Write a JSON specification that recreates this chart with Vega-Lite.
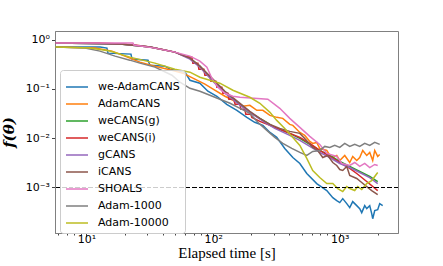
{
  "$schema": "https://vega.github.io/schema/vega-lite/v6.json",
  "width": 343,
  "height": 202,
  "autosize": "none",
  "padding": {"left": 55, "top": 31, "right": 45, "bottom": 33},
  "background": "white",
  "config": {
    "view": {"stroke": "#808080", "strokeWidth": 1},
    "axis": {"grid": false, "domainColor": "#808080", "tickColor": "#444444", "labelFont": "DejaVu Sans", "labelFontSize": 11, "labelColor": "black", "titleColor": "black"}
  },
  "data": {"values": [
    {"s":"we-AdamCANS","t":5.7,"v":0.707},{"s":"we-AdamCANS","t":12.78,"v":0.707},{"s":"we-AdamCANS","t":14.5,"v":0.674},{"s":"we-AdamCANS","t":14.78,"v":0.533},{"s":"we-AdamCANS","t":22.45,"v":0.509},{"s":"we-AdamCANS","t":22.86,"v":0.403},{"s":"we-AdamCANS","t":30.6,"v":0.384},{"s":"we-AdamCANS","t":31.7,"v":0.304},{"s":"we-AdamCANS","t":41.6,"v":0.29},{"s":"we-AdamCANS","t":45.6,"v":0.252},{"s":"we-AdamCANS","t":59.9,"v":0.219},{"s":"we-AdamCANS","t":65.6,"v":0.15},{"s":"we-AdamCANS","t":78.6,"v":0.131},{"s":"we-AdamCANS","t":90.9,"v":0.0898},{"s":"we-AdamCANS","t":107.1,"v":0.071},{"s":"we-AdamCANS","t":128,"v":0.0488},{"s":"we-AdamCANS","t":154,"v":0.0368},{"s":"we-AdamCANS","t":184.6,"v":0.0265},{"s":"we-AdamCANS","t":213,"v":0.021},{"s":"we-AdamCANS","t":247,"v":0.0182},{"s":"we-AdamCANS","t":281,"v":0.0131},{"s":"we-AdamCANS","t":318,"v":0.01038},{"s":"we-AdamCANS","t":368,"v":0.0062},{"s":"we-AdamCANS","t":426,"v":0.00406},{"s":"we-AdamCANS","t":484,"v":0.00307},{"s":"we-AdamCANS","t":549,"v":0.00192},{"s":"we-AdamCANS","t":658,"v":0.0012},{"s":"we-AdamCANS","t":790,"v":0.000865},{"s":"we-AdamCANS","t":881,"v":0.000622},{"s":"we-AdamCANS","t":947,"v":0.000541},{"s":"we-AdamCANS","t":1000,"v":0.000493},{"s":"we-AdamCANS","t":1056,"v":0.000594},{"s":"we-AdamCANS","t":1136,"v":0.00047},{"s":"we-AdamCANS","t":1199,"v":0.00039},{"s":"we-AdamCANS","t":1266,"v":0.000516},{"s":"we-AdamCANS","t":1362,"v":0.000428},{"s":"we-AdamCANS","t":1438,"v":0.000372},{"s":"we-AdamCANS","t":1491,"v":0.000308},{"s":"we-AdamCANS","t":1575,"v":0.000428},{"s":"we-AdamCANS","t":1633,"v":0.000372},{"s":"we-AdamCANS","t":1725,"v":0.000428},{"s":"we-AdamCANS","t":1788,"v":0.000294},{"s":"we-AdamCANS","t":1821,"v":0.000232},{"s":"we-AdamCANS","t":1889,"v":0.000339},{"s":"we-AdamCANS","t":1994,"v":0.000355},{"s":"we-AdamCANS","t":2068,"v":0.00047},{"s":"we-AdamCANS","t":2184,"v":0.000428},
    {"s":"AdamCANS","t":5.7,"v":0.707},{"s":"AdamCANS","t":11.67,"v":0.674},{"s":"AdamCANS","t":15.89,"v":0.586},{"s":"AdamCANS","t":20.1,"v":0.463},{"s":"AdamCANS","t":26.4,"v":0.35},{"s":"AdamCANS","t":34.7,"v":0.29},{"s":"AdamCANS","t":47.3,"v":0.24},{"s":"AdamCANS","t":57.7,"v":0.209},{"s":"AdamCANS","t":71.8,"v":0.158},{"s":"AdamCANS","t":86.1,"v":0.125},{"s":"AdamCANS","t":103,"v":0.0942},{"s":"AdamCANS","t":124,"v":0.071},{"s":"AdamCANS","t":149,"v":0.0562},{"s":"AdamCANS","t":171.7,"v":0.0444},{"s":"AdamCANS","t":195,"v":0.0466},{"s":"AdamCANS","t":221.4,"v":0.0368},{"s":"AdamCANS","t":247,"v":0.0368},{"s":"AdamCANS","t":281,"v":0.0291},{"s":"AdamCANS","t":318,"v":0.0265},{"s":"AdamCANS","t":355,"v":0.0253},{"s":"AdamCANS","t":403,"v":0.0191},{"s":"AdamCANS","t":426,"v":0.0182},{"s":"AdamCANS","t":484,"v":0.0131},{"s":"AdamCANS","t":529,"v":0.0114},{"s":"AdamCANS","t":580,"v":0.00861},{"s":"AdamCANS","t":612,"v":0.00784},{"s":"AdamCANS","t":658,"v":0.00821},{"s":"AdamCANS","t":695,"v":0.0062},{"s":"AdamCANS","t":790,"v":0.00564},{"s":"AdamCANS","t":834,"v":0.00446},{"s":"AdamCANS","t":881,"v":0.00406},{"s":"AdamCANS","t":947,"v":0.00446},{"s":"AdamCANS","t":1000,"v":0.00353},{"s":"AdamCANS","t":1095,"v":0.00446},{"s":"AdamCANS","t":1199,"v":0.00321},{"s":"AdamCANS","t":1266,"v":0.00426},{"s":"AdamCANS","t":1362,"v":0.00353},{"s":"AdamCANS","t":1438,"v":0.00406},{"s":"AdamCANS","t":1519,"v":0.00564},{"s":"AdamCANS","t":1633,"v":0.00446},{"s":"AdamCANS","t":1725,"v":0.00514},{"s":"AdamCANS","t":1821,"v":0.00353},{"s":"AdamCANS","t":1889,"v":0.00564},{"s":"AdamCANS","t":1994,"v":0.00426},{"s":"AdamCANS","t":2068,"v":0.00468},
    {"s":"weCANS(g)","t":5.7,"v":0.853},{"s":"weCANS(g)","t":18.4,"v":0.813},{"s":"weCANS(g)","t":31.7,"v":0.707},{"s":"weCANS(g)","t":49.9,"v":0.559},{"s":"weCANS(g)","t":65.6,"v":0.422},{"s":"weCANS(g)","t":78.6,"v":0.29},{"s":"weCANS(g)","t":99.5,"v":0.15},{"s":"weCANS(g)","t":124,"v":0.0857},{"s":"weCANS(g)","t":163,"v":0.0488},{"s":"weCANS(g)","t":195,"v":0.0335},{"s":"weCANS(g)","t":256,"v":0.022},{"s":"weCANS(g)","t":307,"v":0.0166},{"s":"weCANS(g)","t":403,"v":0.01253},{"s":"weCANS(g)","t":484,"v":0.00991},{"s":"weCANS(g)","t":580,"v":0.00748},{"s":"weCANS(g)","t":695,"v":0.00564},{"s":"weCANS(g)","t":834,"v":0.00446},{"s":"weCANS(g)","t":1000,"v":0.00337},{"s":"weCANS(g)","t":1199,"v":0.00267},{"s":"weCANS(g)","t":1438,"v":0.00211},{"s":"weCANS(g)","t":1725,"v":0.00167},{"s":"weCANS(g)","t":1994,"v":0.00132},
    {"s":"weCANS(i)","t":5.7,"v":0.853},{"s":"weCANS(i)","t":12.78,"v":0.853},{"s":"weCANS(i)","t":18.4,"v":0.813},{"s":"weCANS(i)","t":24.1,"v":0.776},{"s":"weCANS(i)","t":31.7,"v":0.707},{"s":"weCANS(i)","t":41.6,"v":0.614},{"s":"weCANS(i)","t":49.9,"v":0.559},{"s":"weCANS(i)","t":59.9,"v":0.463},{"s":"weCANS(i)","t":68.0,"v":0.442},{"s":"weCANS(i)","t":69.2,"v":0.334},{"s":"weCANS(i)","t":75.8,"v":0.334},{"s":"weCANS(i)","t":77.2,"v":0.252},{"s":"weCANS(i)","t":84.5,"v":0.252},{"s":"weCANS(i)","t":86.1,"v":0.19},{"s":"weCANS(i)","t":94.3,"v":0.19},{"s":"weCANS(i)","t":96.0,"v":0.144},{"s":"weCANS(i)","t":105.1,"v":0.144},{"s":"weCANS(i)","t":107.1,"v":0.108},{"s":"weCANS(i)","t":117.2,"v":0.108},{"s":"weCANS(i)","t":119.4,"v":0.0817},{"s":"weCANS(i)","t":130.8,"v":0.0817},{"s":"weCANS(i)","t":133.2,"v":0.0617},{"s":"weCANS(i)","t":145.8,"v":0.0617},{"s":"weCANS(i)","t":149,"v":0.0488},{"s":"weCANS(i)","t":163,"v":0.0488},{"s":"weCANS(i)","t":165.6,"v":0.0386},{"s":"weCANS(i)","t":178,"v":0.0386},{"s":"weCANS(i)","t":181.3,"v":0.0305},{"s":"weCANS(i)","t":198.6,"v":0.0305},{"s":"weCANS(i)","t":202.2,"v":0.0265},{"s":"weCANS(i)","t":234,"v":0.022},{"s":"weCANS(i)","t":281,"v":0.0182},{"s":"weCANS(i)","t":368,"v":0.01375},{"s":"weCANS(i)","t":484,"v":0.01038},{"s":"weCANS(i)","t":580,"v":0.00784},{"s":"weCANS(i)","t":695,"v":0.00564},{"s":"weCANS(i)","t":834,"v":0.00426},{"s":"weCANS(i)","t":1000,"v":0.00321},{"s":"weCANS(i)","t":1199,"v":0.00243},{"s":"weCANS(i)","t":1362,"v":0.00192},{"s":"weCANS(i)","t":1633,"v":0.00132},{"s":"weCANS(i)","t":1994,"v":0.000865},
    {"s":"gCANS","t":5.7,"v":0.853},{"s":"gCANS","t":18.4,"v":0.813},{"s":"gCANS","t":31.7,"v":0.707},{"s":"gCANS","t":49.9,"v":0.559},{"s":"gCANS","t":65.6,"v":0.403},{"s":"gCANS","t":78.6,"v":0.277},{"s":"gCANS","t":99.5,"v":0.144},{"s":"gCANS","t":124,"v":0.0817},{"s":"gCANS","t":163,"v":0.0466},{"s":"gCANS","t":195,"v":0.0335},{"s":"gCANS","t":256,"v":0.021},{"s":"gCANS","t":307,"v":0.0158},{"s":"gCANS","t":403,"v":0.0114},{"s":"gCANS","t":484,"v":0.00902},{"s":"gCANS","t":580,"v":0.00681},{"s":"gCANS","t":695,"v":0.00514},{"s":"gCANS","t":834,"v":0.00406},{"s":"gCANS","t":1000,"v":0.00307},{"s":"gCANS","t":1199,"v":0.00254},{"s":"gCANS","t":1438,"v":0.00201},{"s":"gCANS","t":1725,"v":0.00159},{"s":"gCANS","t":1994,"v":0.0012},
    {"s":"iCANS","t":5.7,"v":0.853},{"s":"iCANS","t":18.4,"v":0.813},{"s":"iCANS","t":31.7,"v":0.707},{"s":"iCANS","t":49.9,"v":0.559},{"s":"iCANS","t":65.6,"v":0.422},{"s":"iCANS","t":78.6,"v":0.29},{"s":"iCANS","t":99.5,"v":0.158},{"s":"iCANS","t":124,"v":0.0898},{"s":"iCANS","t":163,"v":0.0511},{"s":"iCANS","t":195,"v":0.0351},{"s":"iCANS","t":234,"v":0.0253},{"s":"iCANS","t":281,"v":0.0191},{"s":"iCANS","t":336,"v":0.0158},{"s":"iCANS","t":403,"v":0.01375},{"s":"iCANS","t":484,"v":0.01253},{"s":"iCANS","t":529,"v":0.00991},{"s":"iCANS","t":612,"v":0.0065},{"s":"iCANS","t":670.6,"v":0.00564},{"s":"iCANS","t":734,"v":0.00406},{"s":"iCANS","t":804,"v":0.00446},{"s":"iCANS","t":881,"v":0.00321},{"s":"iCANS","t":947,"v":0.00279},{"s":"iCANS","t":1000,"v":0.00231},{"s":"iCANS","t":1056,"v":0.00221},{"s":"iCANS","t":1136,"v":0.00267},{"s":"iCANS","t":1199,"v":0.00175},{"s":"iCANS","t":1362,"v":0.00152},{"s":"iCANS","t":1491,"v":0.00126},{"s":"iCANS","t":1633,"v":0.00104},{"s":"iCANS","t":1788,"v":0.000865},{"s":"iCANS","t":1994,"v":0.000717},
    {"s":"SHOALS","t":5.7,"v":0.853},{"s":"SHOALS","t":23.27,"v":0.853},{"s":"SHOALS","t":23.71,"v":0.776},{"s":"SHOALS","t":34.7,"v":0.674},{"s":"SHOALS","t":49.9,"v":0.559},{"s":"SHOALS","t":65.6,"v":0.463},{"s":"SHOALS","t":78.6,"v":0.367},{"s":"SHOALS","t":89.3,"v":0.277},{"s":"SHOALS","t":97.7,"v":0.165},{"s":"SHOALS","t":109.0,"v":0.108},{"s":"SHOALS","t":124,"v":0.0817},{"s":"SHOALS","t":143.2,"v":0.071},{"s":"SHOALS","t":163,"v":0.0678},{"s":"SHOALS","t":270.4,"v":0.0617},{"s":"SHOALS","t":336,"v":0.0404},{"s":"SHOALS","t":403,"v":0.0253},{"s":"SHOALS","t":484,"v":0.0166},{"s":"SHOALS","t":580,"v":0.0109},{"s":"SHOALS","t":695,"v":0.00748},{"s":"SHOALS","t":790,"v":0.0049},{"s":"SHOALS","t":947,"v":0.00426},{"s":"SHOALS","t":1037,"v":0.00307},{"s":"SHOALS","t":1199,"v":0.00279},{"s":"SHOALS","t":1313,"v":0.00321},{"s":"SHOALS","t":1438,"v":0.00267},{"s":"SHOALS","t":1575,"v":0.00307},{"s":"SHOALS","t":1725,"v":0.00254},{"s":"SHOALS","t":1889,"v":0.00293},{"s":"SHOALS","t":1994,"v":0.00279},
    {"s":"Adam-1000","t":5.7,"v":0.707},{"s":"Adam-1000","t":9.73,"v":0.674},{"s":"Adam-1000","t":12.78,"v":0.586},{"s":"Adam-1000","t":16.8,"v":0.463},{"s":"Adam-1000","t":22.0,"v":0.384},{"s":"Adam-1000","t":26.4,"v":0.334},{"s":"Adam-1000","t":34.7,"v":0.277},{"s":"Adam-1000","t":47.3,"v":0.19},{"s":"Adam-1000","t":54.7,"v":0.137},{"s":"Adam-1000","t":65.6,"v":0.103},{"s":"Adam-1000","t":78.6,"v":0.0898},{"s":"Adam-1000","t":94.3,"v":0.0744},{"s":"Adam-1000","t":113,"v":0.0617},{"s":"Adam-1000","t":136,"v":0.0511},{"s":"Adam-1000","t":163,"v":0.0404},{"s":"Adam-1000","t":195,"v":0.032},{"s":"Adam-1000","t":225.4,"v":0.021},{"s":"Adam-1000","t":265.5,"v":0.0144},{"s":"Adam-1000","t":307,"v":0.01038},{"s":"Adam-1000","t":355,"v":0.00784},{"s":"Adam-1000","t":418.1,"v":0.0062},{"s":"Adam-1000","t":484,"v":0.00514},{"s":"Adam-1000","t":549,"v":0.00446},{"s":"Adam-1000","t":612,"v":0.00538},{"s":"Adam-1000","t":695,"v":0.00564},{"s":"Adam-1000","t":761.6,"v":0.00681},{"s":"Adam-1000","t":834,"v":0.0065},{"s":"Adam-1000","t":913,"v":0.00714},{"s":"Adam-1000","t":1000,"v":0.0065},{"s":"Adam-1000","t":1095,"v":0.00784},{"s":"Adam-1000","t":1199,"v":0.00681},{"s":"Adam-1000","t":1313,"v":0.00748},{"s":"Adam-1000","t":1438,"v":0.00681},{"s":"Adam-1000","t":1575,"v":0.00784},{"s":"Adam-1000","t":1725,"v":0.00714},{"s":"Adam-1000","t":1889,"v":0.00821},{"s":"Adam-1000","t":2068,"v":0.00748},
    {"s":"Adam-10000","t":5.7,"v":0.707},{"s":"Adam-10000","t":10.66,"v":0.674},{"s":"Adam-10000","t":15.32,"v":0.586},{"s":"Adam-10000","t":22.0,"v":0.442},{"s":"Adam-10000","t":34.7,"v":0.334},{"s":"Adam-10000","t":49.9,"v":0.252},{"s":"Adam-10000","t":65.6,"v":0.219},{"s":"Adam-10000","t":78.6,"v":0.173},{"s":"Adam-10000","t":113,"v":0.131},{"s":"Adam-10000","t":143.2,"v":0.0942},{"s":"Adam-10000","t":195,"v":0.0678},{"s":"Adam-10000","t":234,"v":0.0511},{"s":"Adam-10000","t":281,"v":0.0335},{"s":"Adam-10000","t":318,"v":0.023},{"s":"Adam-10000","t":368,"v":0.0158},{"s":"Adam-10000","t":426,"v":0.01038},{"s":"Adam-10000","t":484,"v":0.00714},{"s":"Adam-10000","t":549,"v":0.00388},{"s":"Adam-10000","t":612,"v":0.00221},{"s":"Adam-10000","t":695,"v":0.00159},{"s":"Adam-10000","t":790,"v":0.0012},{"s":"Adam-10000","t":881,"v":0.0012},{"s":"Adam-10000","t":964.5,"v":0.00095},{"s":"Adam-10000","t":1056,"v":0.000825},{"s":"Adam-10000","t":1136,"v":0.00104},{"s":"Adam-10000","t":1199,"v":0.00095},{"s":"Adam-10000","t":1313,"v":0.000865},{"s":"Adam-10000","t":1387,"v":0.00104},{"s":"Adam-10000","t":1491,"v":0.000906},{"s":"Adam-10000","t":1633,"v":0.0012},{"s":"Adam-10000","t":1788,"v":0.00138},{"s":"Adam-10000","t":1889,"v":0.00167},{"s":"Adam-10000","t":1994,"v":0.00201}
  ]},
  "layer": [
    {
      "mark": {"type": "line", "strokeWidth": 1.5, "clip": true},
      "encoding": {
        "x": {"field": "t", "type": "quantitative",
          "scale": {"type": "log", "domain": [5.64, 2884], "nice": false},
          "axis": {
            "values": [6,7,8,9,10,20,30,40,50,60,70,80,90,100,200,300,400,500,600,700,800,900,1000,2000],
            "labelExpr": "datum.value == 10 ? '10¹' : datum.value == 100 ? '10²' : datum.value == 1000 ? '10³' : ''",
            "tickSize": {"condition": {"test": "datum.value == 10 || datum.value == 100 || datum.value == 1000", "value": 3.5}, "value": 2},
            "labelPadding": -3,
            "labelFlush": false,
            "labelOverlap": false,
            "title": "Elapsed time [s]",
            "titleFont": "Liberation Serif",
            "titleFontSize": 15,
            "titleFontWeight": "normal",
            "titlePadding": 1
          }
        },
        "y": {"field": "v", "type": "quantitative",
          "scale": {"type": "log", "domain": [0.000119, 1.5], "nice": false},
          "axis": {
            "values": [1, 0.1, 0.01, 0.001],
            "labelExpr": "datum.value == 1 ? '10⁰' : datum.value == 0.1 ? '10⁻¹' : datum.value == 0.01 ? '10⁻²' : '10⁻³'",
            "tickSize": 3.5,
            "labelPadding": 2,
            "labelOverlap": false,
            "title": "f(θ)",
            "titleFont": "DejaVu Serif",
            "titleFontSize": 15,
            "titleFontStyle": "italic",
            "titleFontWeight": "bold",
            "titlePadding": 9
          }
        },
        "color": {"field": "s", "type": "nominal",
          "scale": {
            "domain": ["we-AdamCANS","AdamCANS","weCANS(g)","weCANS(i)","gCANS","iCANS","SHOALS","Adam-1000","Adam-10000"],
            "range": ["#1f77b4","#ff7f0e","#2ca02c","#d62728","#9467bd","#8c564b","#e377c2","#7f7f7f","#bcbd22"]
          },
          "legend": {
            "title": null,
            "orient": "none",
            "legendX": 5,
            "legendY": 39,
            "fillColor": "rgba(255,255,255,0.8)",
            "strokeColor": "#cccccc",
            "cornerRadius": 3,
            "padding": 5,
            "symbolType": "stroke",
            "symbolSize": 484,
            "symbolStrokeWidth": 1.5,
            "labelFont": "DejaVu Sans",
            "labelFontSize": 11,
            "labelColor": "black",
            "labelOffset": 9,
            "rowPadding": -1.3
          }
        }
      }
    },
    {
      "mark": {"type": "rule", "strokeDash": [4, 2.5], "color": "black", "strokeWidth": 1.1},
      "encoding": {"y": {"datum": 0.001}}
    }
  ]
}
